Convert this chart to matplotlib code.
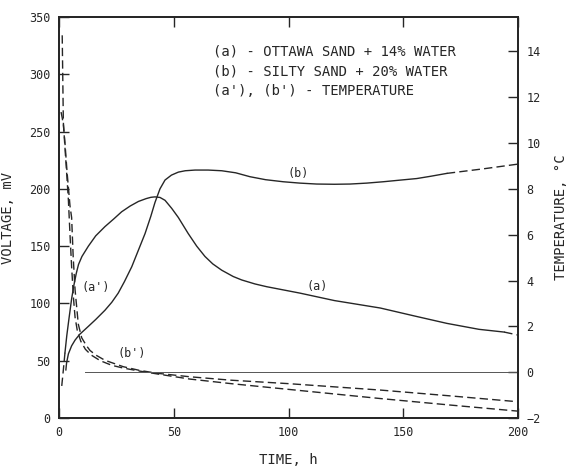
import numpy as np
import matplotlib
matplotlib.use("Agg")
import matplotlib.pyplot as plt

plt.rcParams["font.family"] = ["DejaVu Sans Mono"]

ink = "#262626"

# voltage (a) - Ottawa sand, dashed start then solid
a_x_start = [1.2, 1.9, 2.6]
a_v_start = [28, 42, 57]
a_x = [2.6, 3.4, 4.3, 5.5, 6.5, 7.5, 8.5, 10, 12.8, 16, 20, 24, 27.3, 31, 34.6, 38,
       40, 41.8, 44, 46.2, 49.1, 52, 56.3, 60, 63.6, 67, 70.9, 75.9, 79.6, 85.4, 90.5,
       105, 120, 140, 155, 169, 183, 194]
a_v = [57, 72, 86, 104, 116, 126, 134, 141, 150, 159, 167, 174, 180, 185, 189, 191.5,
       192.6, 193, 192.5, 190, 183, 175, 161, 150, 141, 134.5, 129, 123.5, 120.5, 117,
       114.6, 109, 102.5, 96, 89, 82.6, 77.4, 75]
a_x_end = [194, 200]
a_v_end = [75, 72.4]

# voltage (b) - silty sand
b_x = [3.0, 3.3, 4.1, 5.5, 7, 9, 12.8, 16, 20, 23, 25.8, 28.5, 31.7, 34.5, 37.5, 40,
       41.8, 44, 46.2, 49, 52, 55, 59.3, 65, 70.9, 77, 83.2, 90, 97.7, 105, 112.3, 120,
       126.8, 134, 141.3, 148, 155.9, 162, 169]
b_v = [42, 48, 56, 63, 68, 73, 80, 86, 94, 101, 109, 119, 132, 146, 161, 176, 188, 200,
       207.7, 212, 214.6, 215.8, 216.4, 216.4, 215.8, 214, 210.6, 208, 206.2, 205, 204.2,
       204, 204.2, 205, 206.2, 207.5, 209, 211, 213.5]
b_x_end = [169, 185, 200]
b_v_end = [213.5, 217.5, 221.6]

# temperature (a'), (b')
ta_x = [1.4, 1.9, 2.6, 3.3, 4.1, 4.8, 5.5, 6.3, 7.0, 8.0, 9.5, 11.5, 14, 18, 23, 28, 35,
        43, 57, 75, 100, 140, 170, 200]
ta_t = [14.7, 10.9, 9.8, 8.75, 7.5, 6.0, 4.6, 3.25, 2.4, 1.8, 1.35, 1.0, 0.75, 0.5, 0.3,
        0.18, 0.05, -0.08, -0.3, -0.5, -0.75, -1.15, -1.43, -1.7]
tb_x = [0.9, 1.4, 1.9, 2.6, 3.5, 4.8, 5.5, 6.2, 7.0, 8.4, 9.9, 12, 13.5, 16, 20, 28, 35,
        43, 57, 75, 100, 140, 170, 200]
tb_t = [11.35, 11.1, 10.8, 10.0, 8.75, 7.25, 6.75, 5.0, 3.6, 2.1, 1.5, 1.15, 0.95, 0.75,
        0.52, 0.24, 0.08, -0.05, -0.2, -0.35, -0.5, -0.78, -1.03, -1.29]

zero_line_x = [11.3, 200]

legend_lines = ["(a) - OTTAWA SAND + 14% WATER",
                "(b) - SILTY SAND + 20% WATER",
                "(a'), (b') - TEMPERATURE"]

fig = plt.figure(figsize=(5.7, 4.69), dpi=100)
ax = fig.add_axes([0.1035, 0.1087, 0.8053, 0.8551])
ax2 = ax.twinx()

lw = 1.0
dash = (0, (6, 3))
ax.plot(a_x_start, a_v_start, color=ink, lw=lw, linestyle=dash)
ax.plot(a_x, a_v, color=ink, lw=lw)
ax.plot(a_x_end, a_v_end, color=ink, lw=lw, linestyle=dash)
ax.plot(b_x, b_v, color=ink, lw=lw)
ax.plot(b_x_end, b_v_end, color=ink, lw=lw, linestyle=dash)

ax2.plot(ta_x, ta_t, color=ink, lw=lw, linestyle=dash)
ax2.plot(tb_x, tb_t, color=ink, lw=lw, linestyle=dash)
ax2.plot(zero_line_x, [0, 0], color="#555555", lw=0.7)

ax.set_xlim(0, 200)
ax.set_ylim(0, 350)
ax2.set_ylim(-2, 15.5)

ax.set_xticks([0, 50, 100, 150, 200])
ax.set_yticks(np.arange(0, 351, 50))
ax2.set_yticks(np.arange(-2, 15, 2))

ax.tick_params(axis="x", direction="in", length=7, width=1, top=True, pad=6,
               labelsize=8.5, colors=ink)
ax.tick_params(axis="y", direction="in", length=7, width=1, pad=6,
               labelsize=8.5, colors=ink)
ax2.tick_params(axis="y", direction="in", length=7, width=1, pad=6,
                labelsize=8.5, colors=ink)

for a in (ax, ax2):
    for s in a.spines.values():
        s.set_linewidth(1.3)
        s.set_color(ink)

ax.set_xlabel("TIME, h", fontsize=10, color=ink, labelpad=10)
ax.set_ylabel("VOLTAGE, mV", fontsize=10, color=ink, labelpad=10)
ax2.set_ylabel("TEMPERATURE, \u00b0C", fontsize=10, color=ink, labelpad=10,
               rotation=90)

for i, line in enumerate(legend_lines):
    ax.text(67, 320 - i * 17.5, line, fontsize=10, color=ink, va="center", ha="left")

ax.text(104.3, 213.5, "(b)", fontsize=8.5, color=ink, ha="center", va="center")
ax.text(112.5, 115, "(a)", fontsize=8.5, color=ink, ha="center", va="center")
ax.text(16, 114, "(a')", fontsize=8.5, color=ink, ha="center", va="center")
ax.text(31.7, 56, "(b')", fontsize=8.5, color=ink, ha="center", va="center")

fig.savefig("out.png", dpi=100)
